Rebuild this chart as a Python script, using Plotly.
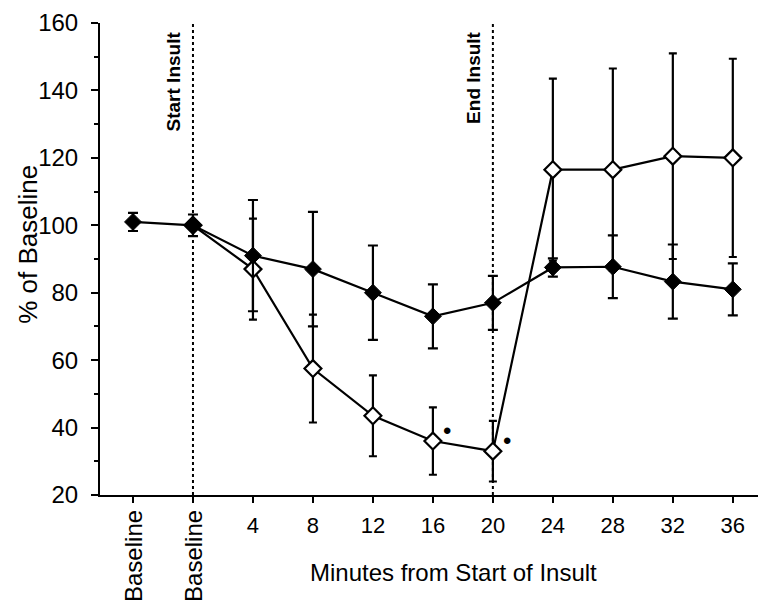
import plotly.graph_objects as go

categories = ["Baseline", "Baseline", "4", "8", "12", "16", "20", "24", "28", "32", "36"]

# filled diamonds (all points)
filled_values = [101, 100, 91, 87, 80, 73, 77, 87.5, 87.7, 83.3, 81]
filled_err = [2.7, 3.2, 16.5, 17, 14, 9.5, 8, 2.7, 9.3, 11, 7.7]

# open diamonds (start at second baseline)
open_categories = categories[1:]
open_values = [100, 87, 57.5, 43.5, 36, 33, 116.5, 116.5, 120.5, 120]
open_err = [0, 15, 16, 12, 10, 9, 27, 30, 30.5, 29.4]

# significance markers (category labels where a dot is shown)
sig_categories = ["16", "20"]

# event lines (label, category index)
events = [("Start Insult", 1), ("End Insult", 6)]

x_all = list(range(len(categories)))
x_open = x_all[1:]

FONT = "Liberation Sans, Arial, sans-serif"

fig = go.Figure()

fig.add_trace(go.Scatter(
    x=x_open, y=open_values, mode="lines+markers",
    line=dict(color="black", width=2.2),
    marker=dict(symbol="diamond", size=13, color="white",
                line=dict(color="black", width=2.2)),
    error_y=dict(type="data", array=open_err, color="black",
                 thickness=2.2, width=4),
    showlegend=False,
))

fig.add_trace(go.Scatter(
    x=x_all, y=filled_values, mode="lines+markers",
    line=dict(color="black", width=2.2),
    marker=dict(symbol="diamond", size=13, color="black",
                line=dict(color="black", width=1)),
    error_y=dict(type="data", array=filled_err, color="black",
                 thickness=2.2, width=5),
    showlegend=False,
))

# vertical dotted event lines with rotated labels
for label, xi in events:
    fig.add_shape(type="line", xref="x", yref="y", x0=xi, x1=xi, y0=20, y1=160,
                  line=dict(color="black", width=2, dash="dot"), layer="below")
    fig.add_annotation(x=xi, y=1, xref="x", yref="paper", text="<b>%s</b>" % label,
                       textangle=-90, showarrow=False, xanchor="right", yanchor="top",
                       xshift=-7, yshift=-6,
                       font=dict(family=FONT, size=19, color="black"))

# significance dots
for c in sig_categories:
    i = open_categories.index(c)
    fig.add_annotation(x=x_open[i], y=open_values[i], xref="x", yref="y", text="•",
                       showarrow=False, xshift=14, yshift=11,
                       font=dict(family=FONT, size=24, color="black"))

# rotated "Baseline" tick labels
for xi, c in zip(x_all, categories):
    if c == "Baseline":
        fig.add_annotation(x=xi, y=0, xref="x", yref="paper", text=c,
                           textangle=-90, showarrow=False, xanchor="center",
                           yanchor="top", yshift=-13,
                           font=dict(family=FONT, size=24, color="black"))

# axis titles as annotations
fig.add_annotation(x=0.5365, y=0, xref="paper", yref="paper",
                   text="Minutes from Start of Insult", showarrow=False,
                   xanchor="center", yanchor="middle", yshift=-77,
                   font=dict(family=FONT, size=24, color="black"))
fig.add_annotation(x=0, y=0.53, xref="paper", yref="paper",
                   text="% of Baseline", showarrow=False, textangle=-90,
                   xanchor="center", yanchor="middle", xshift=-72,
                   font=dict(family=FONT, size=26, color="black"))

ticktext = [c if c != "Baseline" else "" for c in categories]

fig.update_layout(
    width=758, height=609,
    margin=dict(l=100, r=0, t=23, b=114, pad=0),
    paper_bgcolor="white", plot_bgcolor="white",
    font=dict(family=FONT, color="black"),
    xaxis=dict(
        range=[-0.55, 10.42], tickmode="array", tickvals=x_all, ticktext=ticktext,
        showgrid=False, zeroline=False, showline=True, linecolor="black", linewidth=2,
        ticks="outside", ticklen=6, tickwidth=2, tickcolor="black",
        tickfont=dict(family=FONT, size=22, color="black"), tickangle=0,
        ticklabelstandoff=4,
    ),
    yaxis=dict(
        range=[20, 160], tickmode="array", tickvals=list(range(20, 161, 20)),
        showgrid=False, zeroline=False, showline=True, linecolor="black", linewidth=2,
        ticks="outside", ticklen=7, tickwidth=2, tickcolor="black",
        tickfont=dict(family=FONT, size=24, color="black"),
        ticklabelstandoff=8,
        minor=dict(tickmode="array", tickvals=list(range(30, 160, 20)),
                   ticks="outside", ticklen=4, tickwidth=2, tickcolor="black"),
    ),
)

fig.write_html("out.html")
